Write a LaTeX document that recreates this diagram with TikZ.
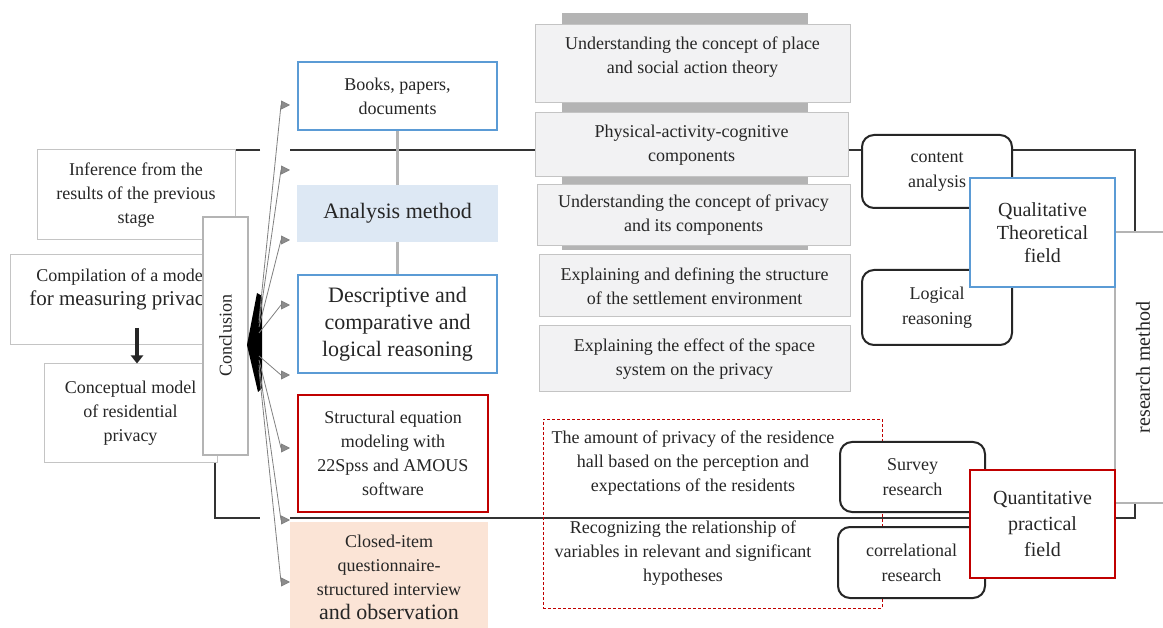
\documentclass[tikz,border=0pt]{standalone}
\usepackage{fontspec}
\setmainfont{Liberation Serif}
\usepackage{tikz}
\usetikzlibrary{arrows.meta}

\definecolor{boxblue}{HTML}{5B9BD5}
\definecolor{boxred}{HTML}{C00000}
\definecolor{paleblue}{HTML}{DDE8F4}
\definecolor{peach}{HTML}{FBE4D6}
\definecolor{cardgray}{HTML}{F2F2F3}
\definecolor{bandgray}{HTML}{B4B4B4}
\definecolor{edgegray}{HTML}{C4C4C4}
\definecolor{ink}{HTML}{262626}

\newcommand{\fsn}{\fontsize{18}{24}\selectfont}
\newcommand{\fsb}{\fontsize{22}{27}\selectfont}
\newcommand{\fsm}{\fontsize{20}{23}\selectfont}

\begin{document}
\begin{tikzpicture}[x=1pt,y=-1pt,
    every node/.style={inner sep=0pt, align=center, text=ink, font=\fsn},
    card/.style={draw=edgegray, fill=cardgray, line width=1pt},
    leftbox/.style={draw=edgegray, fill=white, line width=1pt},
    bluebox/.style={draw=boxblue, fill=white, line width=2pt},
    redbox/.style={draw=boxred, fill=white, line width=2pt},
    roundbox/.style={draw=black!85, fill=white, line width=2pt, rounded corners=12pt, font=\fontsize{18}{25}\selectfont},
    frame/.style={draw=black!80, line width=1.5pt},
    stem/.style={draw=bandgray, line width=3pt},
    fanarrow/.style={draw=black!50, line width=0.8pt, -{Triangle[length=9pt,width=9pt,fill=black!45]}},
    droparrow/.style={draw=black!85, line width=4pt, -{Triangle[length=8pt,width=12pt]}}]

    \useasboundingbox (0,0) rectangle (1163,628);
    \fill[white] (0,0) rectangle (1163,628);

    \fill[bandgray] (562,13) rectangle (808,250);

    \draw[frame] (260,150) -- (215,150) -- (215,518) -- (260,518);
    \draw[frame] (290,150) -- (1135,150) -- (1135,518) -- (290,518);

    \node[draw=bandgray, fill=white, line width=2pt, rotate=90, minimum width=271, minimum height=56, font=\fsm] (resmeth) at (1143,367.5) {research method};

    \node[card, minimum width=315, minimum height=78] (place) at (692.5,64) {};
    \node (placetxt) at (692.5,57) {Understanding the concept of place\\and social action theory};
    \node[card, minimum width=313, minimum height=64] (physical) at (691.5,145) {Physical-activity-cognitive\\components};
    \node[card, minimum width=313, minimum height=61] (privacy) at (693.5,215.5) {Understanding the concept of privacy\\and its components};
    \node[card, minimum width=311, minimum height=62] (settle) at (694.5,286) {Explaining and defining the structure\\of the settlement environment};
    \node[card, minimum width=311, minimum height=66] (spacesys) at (694.5,359) {Explaining the effect of the space\\system on the privacy};

    \node[leftbox, minimum width=198, minimum height=90] (infer) at (136,195) {Inference from the\\results of the previous\\stage};
    \node[leftbox, minimum width=215, minimum height=90] (compil) at (117.5,300) {};
    \node (compiltxt) at (122,289) {Compilation of a model\\{\fontsize{21}{24}\selectfont for measuring privacy}};
    \node[leftbox, minimum width=173, minimum height=99] (concept) at (130.5,413.5) {Conceptual model\\of residential\\privacy};
    \coordinate (drop) at (137,328);
    \draw[droparrow] (drop) -- (drop |- concept.north);

    \node[draw=bandgray, fill=white, line width=2pt, rotate=90, minimum width=238, minimum height=45] (concl) at (225.5,336) {Conclusion};

    \fill[black] (257,293) -- (262,296) -- (262,388) -- (258,392) -- (247,345) -- cycle;
    \coordinate (fan) at (259,345);
    \foreach \s/\t [count=\i] in {320/105, 323/170, 327/240, 333/305, 356/375, 360/448, 365/520, 370/582}{
        \coordinate (tip\i) at (290,\t);
        \draw[fanarrow] (fan |- 0,\s) -- (281,\t) -- (tip\i);
    }

    \node[bluebox, minimum width=199, minimum height=68] (books) at (397.5,96) {Books, papers,\\documents};
    \node[fill=paleblue, minimum width=201, minimum height=57, font=\fsb] (analysis) at (397.5,213.5) {Analysis method};
    \node[bluebox, minimum width=199, minimum height=98, font=\fsb] (descr) at (397.5,324) {Descriptive and\\comparative and\\logical reasoning};
    \draw[stem] (books) -- (analysis);
    \draw[stem] (analysis) -- (descr);
    \node[redbox, minimum width=190, minimum height=117] (sem) at (393,453.5) {Structural equation\\modeling with\\22Spss and AMOUS\\software};
    \node[fill=peach, minimum width=198, minimum height=110] (closed) at (389,577) {Closed-item\\questionnaire-\\structured interview\\{\fsb and observation}};

    \node[draw=boxred, dash pattern=on 3pt off 2pt, line width=0.8pt, minimum width=339, minimum height=189] (dashbox) at (712.5,513.5) {};
    \node (amount) at (693,463) {The amount of privacy of the residence\\hall based on the perception and\\expectations of the residents};
    \node (recog) at (683,553) {Recognizing the relationship of\\variables in relevant and significant\\hypotheses};

    \node[roundbox, minimum width=150, minimum height=73] (content) at (937,171.5) {content\\analysis};
    \node[roundbox, minimum width=150, minimum height=75] (logical) at (937,307.5) {Logical\\reasoning};
    \node[roundbox, minimum width=145, minimum height=70] (survey) at (912.5,477) {Survey\\research};
    \node[roundbox, minimum width=147, minimum height=71] (correl) at (911.5,562.5) {correlational\\research};

    \node[bluebox, minimum width=145, minimum height=109, font=\fsm] (qual) at (1042.5,232.5) {Qualitative\\Theoretical\\field};
    \node[redbox, minimum width=145, minimum height=108, font=\fontsize{20}{26}\selectfont] (quant) at (1042.5,524) {Quantitative\\practical\\field};
\end{tikzpicture}
\end{document}
